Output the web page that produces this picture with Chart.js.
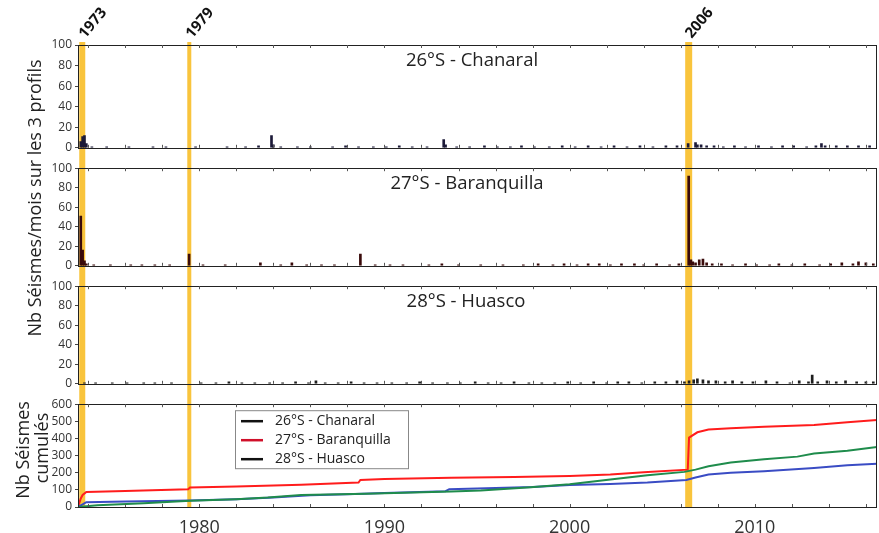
<!DOCTYPE html>
<html><head><meta charset="utf-8">
<script src="https://cdn.jsdelivr.net/npm/chart.js@4.4.1/dist/chart.umd.min.js"></script>
<style>
html,body{margin:0;padding:0;background:#fff;width:879px;height:533px;overflow:hidden;position:relative;font-family:'Open Sans',sans-serif;color:#222;}
.p{position:absolute;left:0;width:879px;}
.yt{position:absolute;white-space:nowrap;transform:translate(-50%,-50%) rotate(-90deg);font-size:18px;color:#222;line-height:1;}
</style></head><body>
<div class="p" style="top:0;height:158px"><canvas id="c1"></canvas></div>
<div class="p" style="top:158px;height:118px"><canvas id="c2"></canvas></div>
<div class="p" style="top:276px;height:118px"><canvas id="c3"></canvas></div>
<div class="p" style="top:394px;height:139px"><canvas id="c4"></canvas></div>
<div class="yt" id="yt1" style="left:34px;top:198px">Nb Séismes/mois sur les 3 profils</div>
<div class="yt" id="yt2" style="left:22px;top:450px">Nb Séismes</div>
<div class="yt" id="yt3" style="left:41px;top:448px">cumulés</div>
<script>
// ---------- DATA ----------
const XMIN = 1973.45, XMAX = 2016.6;
const eventYears = [1973.68, 1979.46, 2006.43];
const eventLabels = ['1973', '1979', '2006'];
const profileNames = ['26°S - Chanaral', '27°S - Baranquilla', '28°S - Huasco'];
const yTicksMonthly = [0, 20, 40, 60, 80, 100];
const yTicksCumul = [0, 100, 200, 300, 400, 500, 600];
const xTickLabels = [1980, 1990, 2000, 2010];

// monthly counts (time in decimal years)
const chanaralMonths = [1973.6,1973.7,1973.8,1973.9,1974.2,1975.0,1976.2,1977.5,1978.2,1979.8,1981.5,1982.5,1983.2,1983.9,1984.0,1984.4,1985.3,1986.0,1987.2,1987.9,1988.6,1989.4,1990.1,1990.8,1991.5,1992.3,1993.2,1993.3,1993.9,1994.6,1995.4,1996.1,1996.8,1997.4,1998.1,1998.9,1999.6,2000.3,2001.0,2001.7,2002.4,2003.1,2003.8,2004.5,2005.2,2005.8,2006.4,2006.8,2006.9,2007.1,2007.4,2007.8,2008.3,2008.9,2009.5,2010.2,2010.9,2011.5,2012.1,2012.8,2013.3,2013.6,2013.8,2014.4,2015.0,2015.6,2016.2];
const chanaralCounts = [6,11,12,4,1,1,1,1,1,1,1,1,2,12,3,1,1,1,1,2,1,1,1,2,1,1,8,3,1,1,2,1,1,2,1,1,2,1,2,1,2,1,2,1,2,2,4,5,3,3,2,2,1,2,1,2,1,2,2,1,2,4,2,2,2,2,2];

const baranquillaMonths = [1973.6,1973.7,1973.8,1973.9,1974.3,1975.2,1976.3,1976.9,1977.6,1978.4,1979.45,1980.2,1981.4,1983.3,1984.4,1985.0,1985.8,1986.6,1987.3,1988.7,1989.5,1990.3,1991.0,1992.4,1993.1,1994.0,1995.2,1996.4,1997.5,1998.3,1999.1,1999.7,2000.4,2001.0,2001.6,2002.2,2002.8,2003.5,2004.0,2004.7,2005.4,2005.9,2006.43,2006.55,2006.65,2006.8,2007.0,2007.2,2007.4,2007.7,2008.2,2008.8,2009.5,2010.1,2010.8,2011.3,2012.0,2012.7,2013.5,2014.1,2014.7,2015.3,2015.6,2016.0,2016.4];
const baranquillaCounts = [51,16,5,2,1,1,1,1,1,1,12,1,1,3,1,3,1,1,1,12,1,1,1,1,2,1,1,1,1,2,1,2,1,2,2,1,2,2,1,2,1,2,92,6,4,3,6,7,3,2,2,1,2,1,1,2,1,2,1,2,3,2,4,3,2];

const huascoMonths = [1973.8,1974.4,1975.3,1976.1,1977.0,1977.6,1978.5,1980.1,1980.9,1981.6,1982.3,1983.0,1983.8,1984.5,1985.2,1985.9,1986.3,1986.8,1987.5,1988.2,1988.9,1989.6,1990.4,1991.2,1991.9,1992.6,1993.4,1994.1,1994.9,1995.6,1996.3,1997.0,1997.8,1998.5,1999.2,1999.9,2000.6,2001.3,2002.0,2002.6,2003.2,2003.9,2004.6,2005.2,2005.8,2006.2,2006.45,2006.7,2006.9,2007.2,2007.5,2007.9,2008.4,2008.8,2009.3,2009.9,2010.6,2011.2,2011.9,2012.4,2012.9,2013.1,2013.4,2013.9,2014.4,2014.9,2015.5,2016.0,2016.4];
const huascoCounts = [1,1,1,1,1,1,1,1,1,2,1,1,1,1,2,1,3,1,1,2,1,1,1,1,2,1,1,1,2,1,1,2,1,1,1,2,1,2,1,2,2,1,2,2,3,2,3,4,5,4,3,3,2,3,2,2,3,2,1,3,2,9,2,3,2,3,2,2,2];

// cumulative counts
const cumChanaralYears = [1973.45,1973.7,1973.9,1976,1979.5,1982,1984,1986,1988,1990,1993.3,1993.5,1995,1998,2000,2002.2,2004.2,2006.3,2006.8,2007.5,2008.7,2010.5,2013.2,2015,2016.6];
const cumChanaralValues = [0,15,28,32,38,45,55,68,75,82,92,104,108,117,128,134,143,158,172,190,200,209,228,243,253];
const cumBaranquillaYears = [1973.45,1973.6,1973.7,1973.9,1976,1979.4,1979.5,1982,1985.5,1988.6,1988.7,1990,1993.6,1997,2000,2002.2,2004,2006.38,2006.45,2006.9,2007.5,2008.7,2010.5,2013.2,2015,2016.6];
const cumBaranquillaValues = [0,50,70,88,94,104,114,120,130,143,158,163,170,175,181,190,203,218,405,436,452,460,468,478,494,508];
const cumHuascoYears = [1973.45,1974.5,1977,1979.5,1982,1983.7,1985.5,1989,1993.6,1995.2,1997.9,2000,2002.2,2004.2,2006.2,2006.8,2007.5,2008.7,2010.5,2012.3,2013.2,2015,2016.6];
const cumHuascoValues = [0,10,22,36,45,55,70,78,90,96,115,133,160,185,205,218,238,260,279,294,312,328,350];

// ---------- BUILD ----------
const pts = (xs, ys) => xs.map((x, i) => ({x: x, y: ys[i]}));
const FONT = "'Open Sans', sans-serif";

const deco = {
  id: 'deco',
  beforeDatasetsDraw(chart, args, o) {
    const {ctx, chartArea: ca, scales: {x}} = chart;
    ctx.save();
    ctx.fillStyle = '#f9c43c';
    const widths = [6, 4, 7];
    eventYears.forEach((yr, i) => {
      const px = x.getPixelForValue(yr);
      const top = o.bandTop || 0;
      const bottom = o.bandToArea ? ca.bottom : chart.height;
      ctx.fillRect(px - widths[i] / 2, top, widths[i], bottom - top);
    });
    ctx.restore();
  },
  afterDatasetsDraw(chart, args, o) {
    const {ctx, chartArea: ca, scales: {x}} = chart;
    ctx.save();
    ctx.strokeStyle = '#222';
    ctx.lineWidth = 1;
    ctx.strokeRect(Math.round(ca.left) + 0.5, Math.round(ca.top) + 0.5, Math.round(ca.right - ca.left) - 1, Math.round(ca.bottom - ca.top));
    ctx.strokeStyle = '#555';
    ctx.beginPath();
    for (let yr = 1974; yr <= 2016; yr += 2) {
      const px = Math.round(x.getPixelForValue(yr)) + 0.5;
      ctx.moveTo(px, ca.top); ctx.lineTo(px, ca.top + 3);
      ctx.moveTo(px, ca.bottom); ctx.lineTo(px, ca.bottom - 3);
    }
    ctx.stroke();
    if (o.title) {
      ctx.fillStyle = '#222';
      ctx.font = '18.5px ' + FONT;
      ctx.textAlign = 'center';
      ctx.textBaseline = 'alphabetic';
      ctx.fillText(o.title, o.titleX, ca.top + 21);
    }
    if (o.yearLabels) {
      ctx.fillStyle = '#111';
      ctx.font = 'bold 15px ' + FONT;
      ctx.textAlign = 'left';
      ctx.textBaseline = 'alphabetic';
      eventYears.forEach((yr, i) => {
        const px = x.getPixelForValue(yr);
        ctx.save();
        ctx.translate(px + 3, 39);
        ctx.rotate(-50 * Math.PI / 180);
        ctx.fillText(eventLabels[i], 0, 0);
        ctx.restore();
      });
    }
    if (o.legend) {
      const lx = ca.left + 157, ly = ca.top + 6;
      ctx.fillStyle = '#fff';
      ctx.fillRect(lx, ly, 173, 58);
      ctx.strokeStyle = '#888';
      ctx.strokeRect(lx + 0.5, ly + 0.5, 173, 58);
      const swatch = ['#111', '#d0102a', '#111'];
      ctx.font = '14px ' + FONT;
      ctx.textBaseline = 'middle';
      ctx.textAlign = 'left';
      profileNames.forEach((n, i) => {
        const yy = ly + 11 + i * 19;
        ctx.strokeStyle = swatch[i];
        ctx.lineWidth = 2.5;
        ctx.beginPath(); ctx.moveTo(lx + 6, yy); ctx.lineTo(lx + 28, yy); ctx.stroke();
        ctx.fillStyle = '#222';
        ctx.fillText(n, lx + 40, yy);
      });
    }
    ctx.restore();
  }
};

function xScale(show) {
  return {
    type: 'linear', min: XMIN, max: XMAX, display: show, offset: false,
    grid: {display: false, offset: false},
    border: {display: false},
    afterBuildTicks: s => { if (show) s.ticks = xTickLabels.map(v => ({value: v})); },
    ticks: {autoSkip: false, maxRotation: 0, color: '#333', font: {size: 18, family: FONT}, padding: 2,
            callback: v => xTickLabels.includes(v) ? String(v) : ''},
    afterFit: s => { if (show) s.height = 26; }
  };
}
function yScale(ticksArr) {
  const mx = ticksArr[ticksArr.length - 1];
  return {
    min: 0, max: mx,
    afterBuildTicks: s => { s.ticks = ticksArr.map(v => ({value: v})); },
    grid: {drawOnChartArea: false, drawTicks: true, tickLength: 3, color: '#444'},
    border: {display: false},
    ticks: {autoSkip: false, color: '#333', font: {size: 12, family: FONT}, padding: 3},
    afterFit: s => { s.width = 78; }
  };
}

function barChart(id, data, color, opts, pad) {
  return new Chart(document.getElementById(id), {
    type: 'bar',
    data: {datasets: [{data: data, backgroundColor: color, barThickness: 2, borderWidth: 0}]},
    options: {
      responsive: true, maintainAspectRatio: false, animation: false,
      layout: {padding: pad},
      plugins: {legend: {display: false}, tooltip: {enabled: false}, deco: opts},
      scales: {x: xScale(false), y: yScale(yTicksMonthly)}
    },
    plugins: [deco]
  });
}

barChart('c1', pts(chanaralMonths, chanaralCounts), '#1c1a38',
  {title: profileNames[0], titleX: 472, yearLabels: true, bandTop: 42}, {top: 45, bottom: 8, left: 0, right: 2});
barChart('c2', pts(baranquillaMonths, baranquillaCounts), '#3a0b0b',
  {title: profileNames[1], titleX: 467}, {top: 7, bottom: 8, left: 0, right: 2});
barChart('c3', pts(huascoMonths, huascoCounts), '#1e1e1e',
  {title: profileNames[2], titleX: 466}, {top: 7, bottom: 6, left: 0, right: 2});

new Chart(document.getElementById('c4'), {
  type: 'line',
  data: {datasets: [
    {label: profileNames[2], data: pts(cumHuascoYears, cumHuascoValues), borderColor: '#1f8c4c', borderWidth: 2, pointRadius: 0, tension: 0},
    {label: profileNames[0], data: pts(cumChanaralYears, cumChanaralValues), borderColor: '#3a4cc4', borderWidth: 2, pointRadius: 0, tension: 0},
    {label: profileNames[1], data: pts(cumBaranquillaYears, cumBaranquillaValues), borderColor: '#ff1c1c', borderWidth: 2, pointRadius: 0, tension: 0}
  ]},
  options: {
    responsive: true, maintainAspectRatio: false, animation: false,
    layout: {padding: {top: 7, bottom: 0, left: 0, right: 2}},
    plugins: {legend: {display: false}, tooltip: {enabled: false}, deco: {legend: true, bandToArea: true}},
    scales: {x: xScale(true), y: yScale(yTicksCumul)}
  },
  plugins: [deco]
});
</script>
</body></html>
